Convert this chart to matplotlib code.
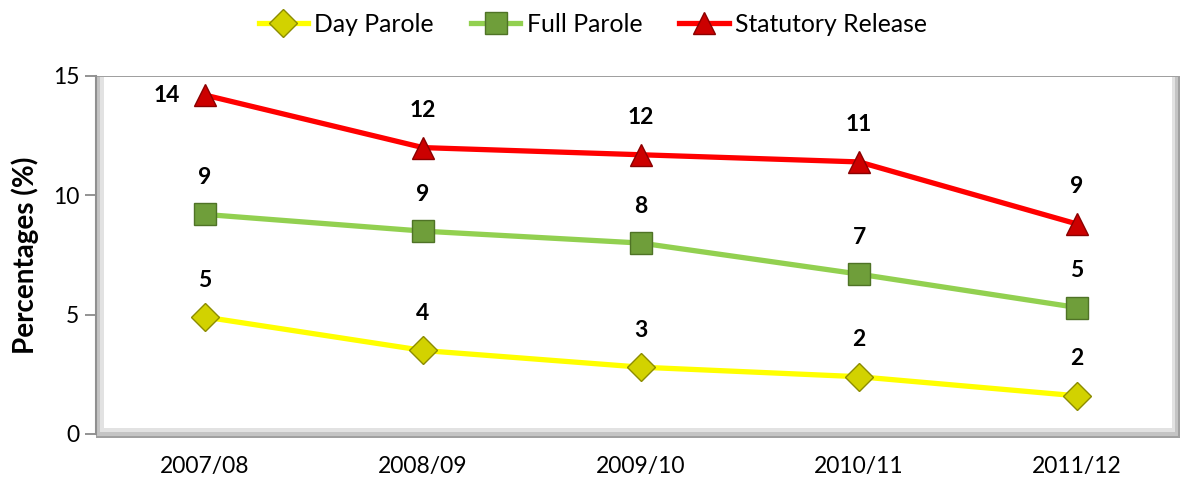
import matplotlib
matplotlib.use("Agg")
import matplotlib.pyplot as plt
from matplotlib.patches import Rectangle

categories = ["2007/08", "2008/09", "2009/10", "2010/11", "2011/12"]
day_parole = [4.9, 3.5, 2.8, 2.4, 1.6]
full_parole = [9.2, 8.5, 8.0, 6.7, 5.3]
statutory = [14.2, 12.0, 11.7, 11.4, 8.8]
day_labels = ["5", "4", "3", "2", "2"]
full_labels = ["9", "9", "8", "7", "5"]
stat_labels = ["14", "12", "12", "11", "9"]
yticks = [0, 5, 10, 15]

plt.rcParams['font.family'] = ['Lato', 'DejaVu Sans']

W, H = 1181, 483
fig = plt.figure(figsize=(W / 100, H / 100), dpi=100)
L, R = 96 / W, 1186 / W
B, T = 1 - 434 / H, 1 - 76 / H
ax = fig.add_axes([L, B, R - L, T - B])
ax.set_zorder(2)
ax.patch.set_alpha(0)

# beveled frame of the plot area
px = lambda v: v / W
py = lambda v: v / H
FR = 1180 / W
fig.patches.append(Rectangle((L, B - py(4)), FR - L, T - B + py(4),
                             transform=fig.transFigure, facecolor="#a0a0a0",
                             edgecolor="none", zorder=-4))
fig.patches.append(Rectangle((L + px(1), B - py(2)), FR - L - px(3), T - B + py(1),
                             transform=fig.transFigure, facecolor="#c4c4c4",
                             edgecolor="none", zorder=-3))
fig.patches.append(Rectangle((L + px(4), B + py(2)), FR - L - px(9), T - B - py(3),
                             transform=fig.transFigure, facecolor="#e2e2e2",
                             edgecolor="none", zorder=-2))
fig.patches.append(Rectangle((L + px(8), B + py(6)), FR - L - px(16), T - B - py(7),
                             transform=fig.transFigure, facecolor="white",
                             edgecolor="none", zorder=-1))

x = list(range(len(categories)))
ax.plot(x, day_parole, color="#ffff00", lw=3.8, marker="D", ms=14,
        mfc="#d2d200", mec="#8c8c00", mew=1.0, label="Day Parole", zorder=3)
ax.plot(x, full_parole, color="#92d050", lw=3.8, marker="s", ms=15.5,
        mfc="#6f9e3a", mec="#4f7326", mew=1.0, label="Full Parole", zorder=3)
ax.plot(x, statutory, color="#ff0000", lw=3.8, marker="^", ms=16.5,
        mfc="#cc0000", mec="#8a0000", mew=1.0, label="Statutory Release", zorder=3)

for series, labs in ((day_parole, day_labels), (full_parole, full_labels), (statutory, stat_labels)):
    for i, (v, t) in enumerate(zip(series, labs)):
        if series is statutory and i == 0:
            ax.annotate(t, (i, v), xytext=(-38, 0), textcoords="offset pixels",
                        ha="center", va="center", fontsize=16.5, fontweight="bold")
        else:
            ax.annotate(t, (i, v), xytext=(0, 37), textcoords="offset pixels",
                        ha="center", va="center", fontsize=16.5, fontweight="bold")

ax.set_xlim(-0.5, 4.5)
ax.set_ylim(0, 15)
ax.set_yticks(yticks)
ax.set_xticks(x)
ax.set_xticklabels(categories)
ax.tick_params(axis="x", length=0, labelsize=16.5, pad=16)
ax.tick_params(axis="y", length=8, width=1.2, color="#808080", labelsize=16.5, pad=4)
for s in ("top", "right", "bottom"):
    ax.spines[s].set_visible(False)
ax.spines["left"].set_color("#909090")
ax.spines["left"].set_linewidth(1.5)
ax.set_ylabel("Percentages (%)", fontsize=20, fontweight="bold", labelpad=10)

fig.legend(loc="upper center", bbox_to_anchor=(0.502, 1.02), ncol=3, frameon=False,
           fontsize=17.8, handlelength=2.0, columnspacing=1.5, handletextpad=0.25)

fig.savefig("out.png", dpi=100)
